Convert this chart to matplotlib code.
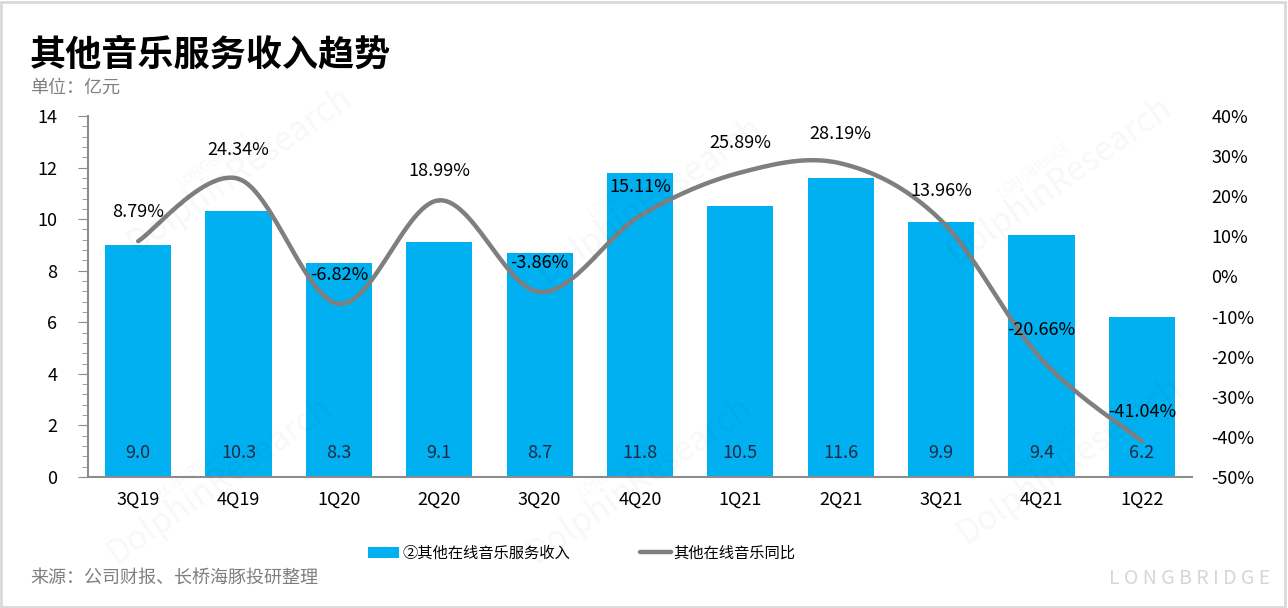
import numpy as np
import matplotlib.pyplot as plt
from matplotlib.ticker import MultipleLocator, FuncFormatter

plt.rcParams['font.family'] = ['Noto Sans CJK SC', 'DejaVu Sans']

quarters = ['3Q19', '4Q19', '1Q20', '2Q20', '3Q20', '4Q20', '1Q21', '2Q21', '3Q21', '4Q21', '1Q22']
revenue = [9.0, 10.3, 8.3, 9.1, 8.7, 11.8, 10.5, 11.6, 9.9, 9.4, 6.2]
yoy = [8.79, 24.34, -6.82, 18.99, -3.86, 15.11, 25.89, 28.19, 13.96, -20.66, -41.04]

bar_color = '#00B0F0'
line_color = '#7F7F7F'


def smooth(xs, ys, n=30):
    # Catmull-Rom curve through the points (like Excel's smoothed line)
    xs = np.asarray(xs, float)
    ys = np.asarray(ys, float)
    px = np.concatenate([[xs[0]], xs, [xs[-1]]])
    py = np.concatenate([[ys[0]], ys, [ys[-1]]])
    outx, outy = [], []
    t = np.linspace(0, 1, n)
    for i in range(1, len(px) - 2):
        for p, out in ((px, outx), (py, outy)):
            p0, p1, p2, p3 = p[i - 1], p[i], p[i + 1], p[i + 2]
            out.extend(0.5 * ((2 * p1) + (-p0 + p2) * t
                              + (2 * p0 - 5 * p1 + 4 * p2 - p3) * t ** 2
                              + (-p0 + 3 * p1 - 3 * p2 + p3) * t ** 3))
    return outx, outy


W, H = 1288, 608
fig = plt.figure(figsize=(W / 100, H / 100), dpi=100)

# light frame round the picture
fig.patches.append(plt.Rectangle((0.001, 0.002), 0.997, 0.995, transform=fig.transFigure,
                                 fill=False, edgecolor='#d9d9d9', linewidth=2))

ax = fig.add_axes([88 / W, (H - 477) / H, (1192 - 88) / W, (477 - 116) / H])
x = np.arange(len(quarters))
bars = ax.bar(x, revenue, width=0.66, color=bar_color, zorder=2)
for xi, v in zip(x, revenue):
    ax.text(xi, 0.95, f'{v:.1f}', ha='center', va='center', fontsize=13, color='#1F2A44', zorder=4)

ax.set_xlim(-0.5, len(quarters) - 0.5)
ax.set_ylim(0, 14)
ax.yaxis.set_major_locator(MultipleLocator(2))
ax.yaxis.set_minor_locator(MultipleLocator(0.4))
ax.set_xticks(x)
ax.set_xticklabels(quarters, fontsize=13)
ax.tick_params(axis='x', length=0, pad=10)
ax.tick_params(axis='y', which='major', length=7, color='#8c8c8c', labelsize=13, pad=15)
ax.tick_params(axis='y', which='minor', length=4, color='#8c8c8c')
for s in ['top', 'right']:
    ax.spines[s].set_visible(False)
for s in ['left', 'bottom']:
    ax.spines[s].set_color('#8c8c8c')
    ax.spines[s].set_linewidth(1.5)

ax2 = ax.twinx()
ax2.set_ylim(-50, 40)
ax2.yaxis.set_major_locator(MultipleLocator(10))
ax2.yaxis.set_major_formatter(FuncFormatter(lambda v, p: f'{v:.0f}%'))
ax2.tick_params(axis='y', length=0, labelsize=13, pad=14)
for s in ax2.spines.values():
    s.set_visible(False)
sx, sy = smooth(x, yoy)
line, = ax2.plot(sx, sy, color=line_color, linewidth=3.2, zorder=3, solid_capstyle='round')
for xi, v in zip(x, yoy):
    ax2.annotate(f'{v:.2f}%', (xi, v), xytext=(0, 21), textcoords='offset points',
                 ha='center', va='center', fontsize=13, color='black', zorder=5)

ax.set_zorder(ax2.get_zorder() - 1)
ax.patch.set_visible(False)
ax2.patch.set_visible(False)

fig.legend(handles=[bars, line], labels=['②其他在线音乐服务收入', '其他在线音乐同比'],
           loc='center', bbox_to_anchor=(582 / W, 1 - 553 / H), ncol=2, frameon=False,
           fontsize=11, handlelength=2.0, handletextpad=0.2, columnspacing=4.6)

fig.text(30 / W, 1 - 55 / H, '其他音乐服务收入趋势', fontsize=26, fontweight='heavy',
         ha='left', va='center', color='black')
fig.text(30 / W, 1 - 88 / H, '单位：亿元', fontsize=13, ha='left', va='center', color='#7f7f7f')
fig.text(30 / W, 1 - 578 / H, '来源：公司财报、长桥海豚投研整理', fontsize=13, ha='left',
         va='center', color='#7f7f7f')

# faint watermarks
fig.text(1270 / W, 1 - 578 / H, 'L O N G B R I D G E', fontsize=14, ha='right', va='center',
         color='#d6d6d6')
for cx, cy in [(240, 170), (650, 200), (1060, 180), (220, 480), (640, 480), (1070, 460)]:
    fig.text(cx / W, 1 - cy / H, 'DolphinResearch', fontsize=24, rotation=35, ha='center',
             va='center', color='#000000', alpha=0.03)
    fig.text((cx - 25) / W, 1 - (cy - 10) / H, 'LONGBRIDGE', fontsize=10, rotation=35,
             ha='center', va='center', color='#000000', alpha=0.03)

fig.savefig('out.png', dpi=100)
